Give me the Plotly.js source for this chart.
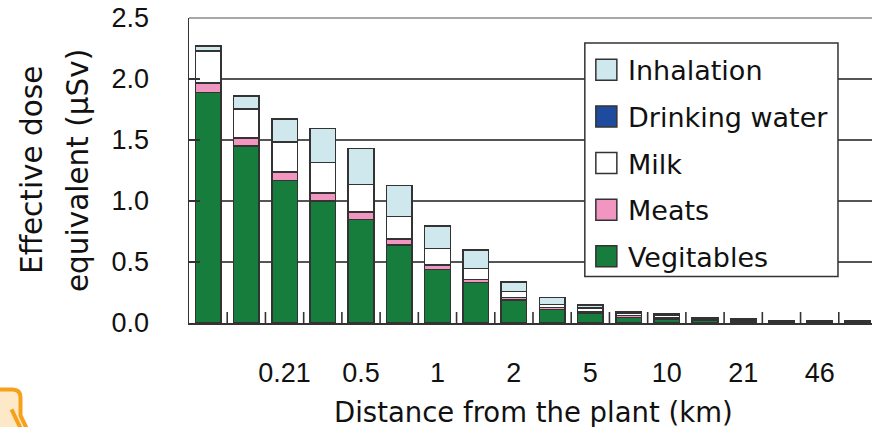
<!DOCTYPE html>
<html>
<head>
<meta charset="utf-8">
<script src="https://cdn.plot.ly/plotly-3.0.1.min.js"></script>
<style>
  html, body { margin: 0; padding: 0; background: #fff; overflow: hidden; }
  #chart { width: 872px; height: 427px; }
</style>
</head>
<body>
<div id="chart"></div>
<script>
// ---- Data ----
const distanceLabels = ['', '', '0.21', '', '0.5', '', '1', '', '2', '', '5', '', '10', '', '21', '', '46', ''];
const vegitables    = [1.89, 1.45, 1.17, 1.00, 0.85, 0.64, 0.44, 0.33, 0.19, 0.11, 0.08, 0.046, 0.030, 0.020, 0.012, 0.007, 0.006, 0.005];
const meats         = [0.078, 0.066, 0.066, 0.066, 0.060, 0.049, 0.035, 0.027, 0.020, 0.016, 0.016, 0.015, 0.010, 0.006, 0.004, 0.002, 0.002, 0.002];
const milk          = [0.263, 0.240, 0.249, 0.251, 0.227, 0.186, 0.134, 0.088, 0.049, 0.025, 0.027, 0.022, 0.020, 0.012, 0.010, 0.006, 0.006, 0.005];
const drinkingWater = [0, 0, 0, 0, 0, 0, 0, 0, 0, 0, 0, 0, 0, 0, 0, 0, 0, 0];
const inhalation    = [0.040, 0.104, 0.188, 0.279, 0.293, 0.251, 0.186, 0.153, 0.078, 0.057, 0.025, 0.012, 0.013, 0.008, 0.006, 0.004, 0.004, 0.003];
const yTickVals  = [0, 0.5, 1.0, 1.5, 2.0, 2.5];
const yTickText  = ['0.0', '0.5', '1.0', '1.5', '2.0', '2.5'];

const seriesNames  = ['Vegitables', 'Meats', 'Milk', 'Drinking water', 'Inhalation'];
const seriesValues = [vegitables, meats, milk, drinkingWater, inhalation];
const seriesColors = ['#177d3c', '#f096c0', '#ffffff', '#1f4b9e', '#cfe8ee'];

// ---- Layout geometry (pixels) ----
const FIG_W = 872, FIG_H = 427;
const L = 189.4, R = 872, T = 17.7, B = 322.6;
const W = R - L, H = B - T;
const px = x => (x - L) / W;
const py = y => (B - y) / H;
const TICKFONT = 'Liberation Sans, Arial, sans-serif';
const FONT = 'DejaVu Sans, Liberation Sans, sans-serif';
const LINE = '#333333';

const xIdx = distanceLabels.map((_, i) => i);
const labelVals = xIdx.filter(i => distanceLabels[i] !== '');
const labelText = labelVals.map(i => distanceLabels[i]);
const xRange = [-0.5, W / 38.2 - 0.5];
const boundaries = xIdx.map(i => i + 0.5).filter(b => b < xRange[1]);

const traces = seriesNames.map((name, k) => ({
  type: 'bar',
  name: name,
  x: xIdx,
  y: seriesValues[k],
  marker: { color: seriesColors[k], line: { color: LINE, width: 1.5 } },
  showlegend: false,
  hoverinfo: 'x+y+name'
}));

const shapes = [];
const annotations = [];

// top gridline at the range end (Plotly clips grid lines at the edge)
shapes.push({ type: 'line', xref: 'paper', yref: 'paper', x0: 0, x1: 1, y0: 1, y1: 1,
  line: { color: '#8a8a8a', width: 1.3 }, layer: 'above' });

// inside tick marks on the category boundaries, placed through the x scale
boundaries.forEach(b => {
  shapes.push({ type: 'line', xref: 'x', yref: 'paper',
    x0: b, x1: b, y0: 0, y1: 11 / H, line: { color: LINE, width: 1.6 }, layer: 'above' });
});

// ---- Manual legend (built from series arrays) ----
shapes.push({ type: 'rect', xref: 'paper', yref: 'paper',
  x0: px(585), x1: px(838), y0: py(276), y1: py(42.7),
  fillcolor: '#ffffff', line: { color: LINE, width: 1.5 }, layer: 'above' });
const legendOrder = seriesNames.map((_, k) => k).reverse();
legendOrder.forEach((k, row) => {
  const cy = 69.5 + row * 46.6;
  shapes.push({ type: 'rect', xref: 'paper', yref: 'paper',
    x0: px(596), x1: px(617), y0: py(cy + 10.5), y1: py(cy - 10.5),
    fillcolor: seriesColors[k], line: { color: LINE, width: 1.5 }, layer: 'above' });
  annotations.push({ xref: 'paper', yref: 'paper', x: px(626), y: py(cy + 1),
    xanchor: 'left', yanchor: 'middle', showarrow: false, text: seriesNames[k],
    font: { family: FONT, size: 27, color: '#111' } });
});

// ---- Axis titles ----
annotations.push({ xref: 'paper', yref: 'paper', x: px(32), y: 0.5, xanchor: 'center', yanchor: 'middle',
  textangle: -90, showarrow: false, text: 'Effective dose', font: { family: FONT, size: 29.5, color: '#111' } });
annotations.push({ xref: 'paper', yref: 'paper', x: px(78), y: 0.5, xanchor: 'center', yanchor: 'middle',
  textangle: -90, showarrow: false, text: 'equivalent (μSv)', font: { family: FONT, size: 29.5, color: '#111' } });
annotations.push({ xref: 'paper', yref: 'paper', x: px(534), y: py(394), xanchor: 'center', yanchor: 'top',
  showarrow: false, text: 'Distance from the plant (km)', font: { family: FONT, size: 27.5, color: '#111' } });

// ---- Orange callout fragment at bottom-left ----
shapes.push({ type: 'path', xref: 'paper', yref: 'paper', layer: 'above',
  path: 'M ' + px(-10) + ',' + py(389) + ' L ' + px(13) + ',' + py(389) +
        ' Q ' + px(21) + ',' + py(389) + ' ' + px(21) + ',' + py(397) +
        ' L ' + px(21) + ',' + py(415) + ' L ' + px(31) + ',' + py(436) +
        ' L ' + px(-10) + ',' + py(436) + ' Z',
  fillcolor: '#fde8c8', line: { color: '#f5a21a', width: 4 } });
shapes.push({ type: 'line', xref: 'paper', yref: 'paper', layer: 'above',
  x0: px(12), y0: py(409), x1: px(25), y1: py(436),
  line: { color: '#f5a21a', width: 4 } });

const layout = {
  width: FIG_W, height: FIG_H,
  margin: { l: L, r: 0, t: T, b: FIG_H - B, pad: 0 },
  paper_bgcolor: '#ffffff', plot_bgcolor: 'rgba(0,0,0,0)',
  barmode: 'stack', bargap: 0.33,
  showlegend: false,
  font: { family: FONT, color: '#111' },
  xaxis: {
    type: 'linear', range: xRange,
    tickmode: 'array', tickvals: labelVals, ticktext: labelText,
    ticks: '', ticklabelstandoff: 25,
    tickfont: { family: TICKFONT, size: 27, color: '#111' },
    showgrid: false, zeroline: false,
    showline: true, linecolor: LINE, linewidth: 1.5
  },
  yaxis: {
    range: [0, 2.5],
    tickmode: 'array', tickvals: yTickVals, ticktext: yTickText,
    ticks: 'inside', ticklen: 11, tickcolor: LINE, tickwidth: 1.5,
    ticklabelstandoff: 33,
    tickfont: { family: TICKFONT, size: 27, color: '#111' },
    showgrid: true, gridcolor: '#555555', gridwidth: 1.3,
    zeroline: false, showline: true, linecolor: LINE, linewidth: 1.5
  },
  shapes: shapes,
  annotations: annotations
};

Plotly.newPlot('chart', traces, layout, { displayModeBar: false, staticPlot: true });
</script>
</body>
</html>
